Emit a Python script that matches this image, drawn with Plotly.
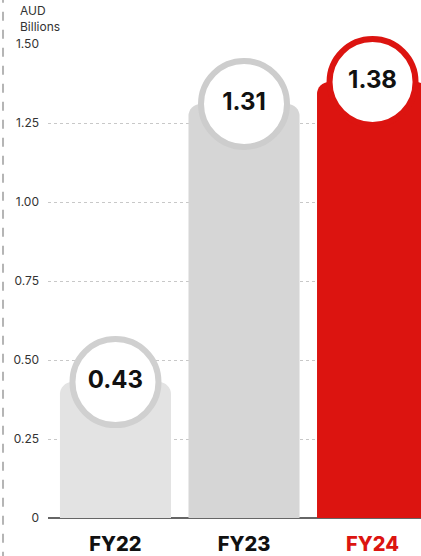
import plotly.graph_objects as go

categories = ["FY22", "FY23", "FY24"]
values = [0.43, 1.31, 1.38]
value_labels = ["0.43", "1.31", "1.38"]
bar_colors = ["#e3e3e3", "#d6d6d6", "#dc1410"]
ring_colors = ["#d0d0d0", "#cdcdcd", "#dc1410"]
tick_colors = ["#111111", "#111111", "#dc1410"]
y_ticks = [0, 0.25, 0.5, 0.75, 1.0, 1.25, 1.5]
y_tick_labels = ["0", "0.25", "0.50", "0.75", "1.00", "1.25", "1.50"]

xs = list(range(len(categories)))
FONT = "Inter"

fig = go.Figure()
fig.add_trace(go.Bar(
    x=xs, y=values, width=0.864,
    marker=dict(color=bar_colors, line=dict(width=0), cornerradius=12),
    hoverinfo="skip",
))
fig.add_trace(go.Scatter(
    x=xs, y=values, mode="markers+text",
    text=value_labels, textposition="middle center",
    textfont=dict(family=FONT, size=24, color="#111111", weight=700),
    marker=dict(size=86, color="white", line=dict(width=6, color=ring_colors)),
    cliponaxis=False, hoverinfo="skip",
))

# red dotted leader line above FY24 circle
fig.add_shape(type="line", xref="x", yref="y", x0=xs[2], x1=xs[2], y0=values[2], y1=1.64,
              line=dict(color="#dc1410", width=2, dash="dot"), layer="below")
# left dashed border
fig.add_shape(type="line", xref="paper", yref="paper", x0=-0.1206, x1=-0.1206, y0=-0.09, y1=1.1,
              line=dict(color="#b5b5b5", width=2, dash="dash"))

ticktext = [f"<span style='color:{c}'>{t}</span>" for t, c in zip(categories, tick_colors)]

fig.update_layout(
    width=421, height=556,
    margin=dict(l=48, r=0, t=44, b=38),
    paper_bgcolor="white", plot_bgcolor="white",
    showlegend=False,
    xaxis=dict(range=[-0.525, 2.377], tickvals=xs, ticktext=ticktext, showgrid=False,
               zeroline=False, showline=False, ticks="", fixedrange=True,
               tickfont=dict(family=FONT, size=20, color="#111111", weight=800),
               ticklabelstandoff=12),
    yaxis=dict(range=[0, 1.5], tickvals=y_ticks, ticktext=y_tick_labels,
               showgrid=True, gridcolor="#c8c8c8", griddash="dot", gridwidth=1,
               zeroline=True, zerolinecolor="#666666", zerolinewidth=1.5,
               showline=False, ticks="", ticklabelstandoff=8,
               tickfont=dict(family=FONT, size=12, color="#333333")),
    annotations=[dict(text="AUD<br>Billions", xref="paper", yref="paper",
                      x=-0.08, y=1.016, xanchor="left", yanchor="bottom", align="left",
                      showarrow=False, font=dict(family=FONT, size=12, color="#333333"))],
)

fig.write_html("out.html")
